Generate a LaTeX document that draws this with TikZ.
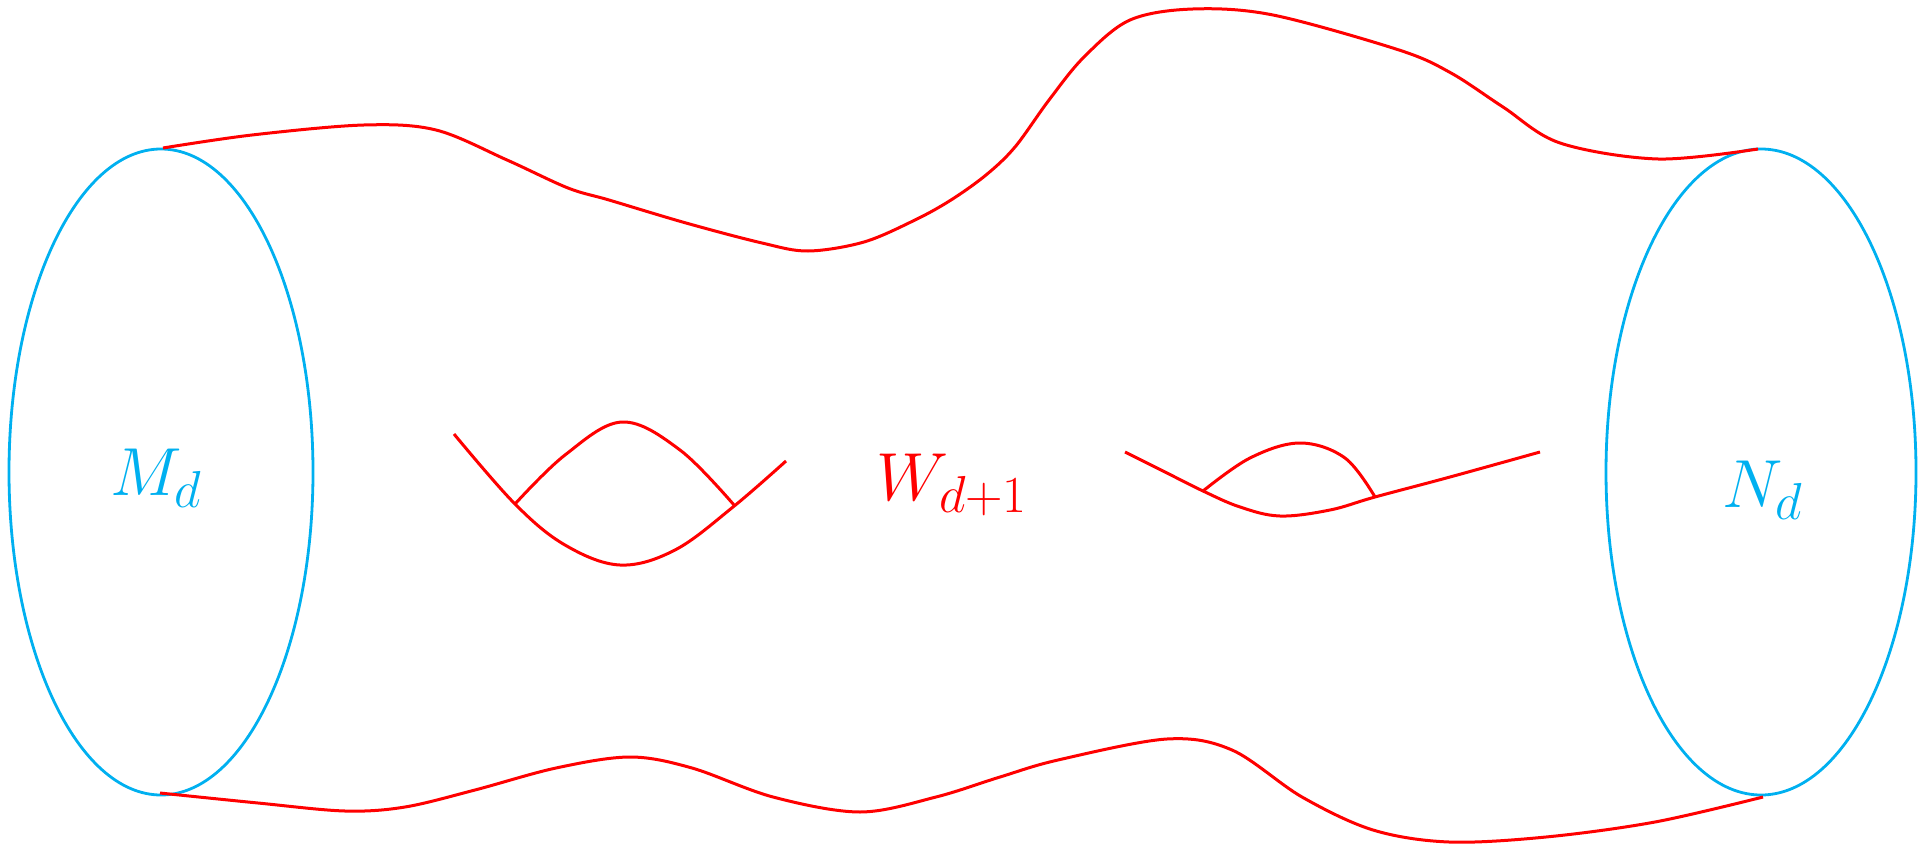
\RequirePackage{fix-cm}
\documentclass[tikz,border=0pt]{standalone}
\DeclareMathSizes{68}{68}{52}{40}
\definecolor{cblue}{RGB}{0,176,240}
\definecolor{cred}{RGB}{255,0,0}
\tikzset{
  bnd/.style={draw=cblue, line width=2.8pt},
  surf/.style={draw=cred, line width=3pt},
  lbl/.style={inner sep=0pt, anchor=base west, font=\fontsize{68}{80}\selectfont},
}
\begin{document}
\begin{tikzpicture}[x=1pt,y=-1pt]
\useasboundingbox (0,0) rectangle (1921,845);
% boundary ellipses
\draw[bnd] (161,472) ellipse [x radius=152pt, y radius=323pt];
\draw[bnd] (1761,472) ellipse [x radius=155pt, y radius=323pt];
% top edge
\draw[surf] plot[smooth, tension=0.55] coordinates {(163,148) (252,135) (364,125) (436,130) (507,160) (568,188) (609,200) (686,223) (762,243) (808,251) (864,242) (915,220) (951,200) (986,175) (1015,147) (1049,100) (1084,57) (1130,20) (1193,9) (1273,15) (1399,50) (1451,73) (1503,107) (1560,143) (1658,159) (1758,149)};
% bottom edge
\draw[surf] plot[smooth, tension=0.55] coordinates {(160,793) (258,803) (345,811) (405,807) (475,790) (556,768) (630,757) (692,768) (773,797) (860,812) (936,797) (1000,777) (1058,760) (1167,739) (1232,750) (1302,797) (1373,830) (1449,842) (1546,837) (1655,822) (1763,797)};
% left handle
\draw[surf] plot[smooth, tension=0.6] coordinates {(454,434) (515,504) (565,545) (620,565) (675,550) (733,507) (786,461)};
\draw[surf] plot[smooth, tension=0.6] coordinates {(515,504) (565,455) (622,422) (680,450) (734,505)};
% right handle
\draw[surf] plot[smooth, tension=0.6] coordinates {(1125,452) (1165,472) (1203,491) (1240,507) (1280,516) (1330,510) (1375,497) (1450,477) (1540,452)};
\draw[surf] plot[smooth, tension=0.6] coordinates {(1203,491) (1250,458) (1300,443) (1345,458) (1375,497)};
% labels
\node[lbl, text=cblue] (M) at (110,495) {$M_d$};
\node[lbl, text=cblue] (N) at (1722,507) {$N_d$};
\node[lbl, text=cred] (W) at (876,500) {$W_{d+1}$};
\end{tikzpicture}
\end{document}
